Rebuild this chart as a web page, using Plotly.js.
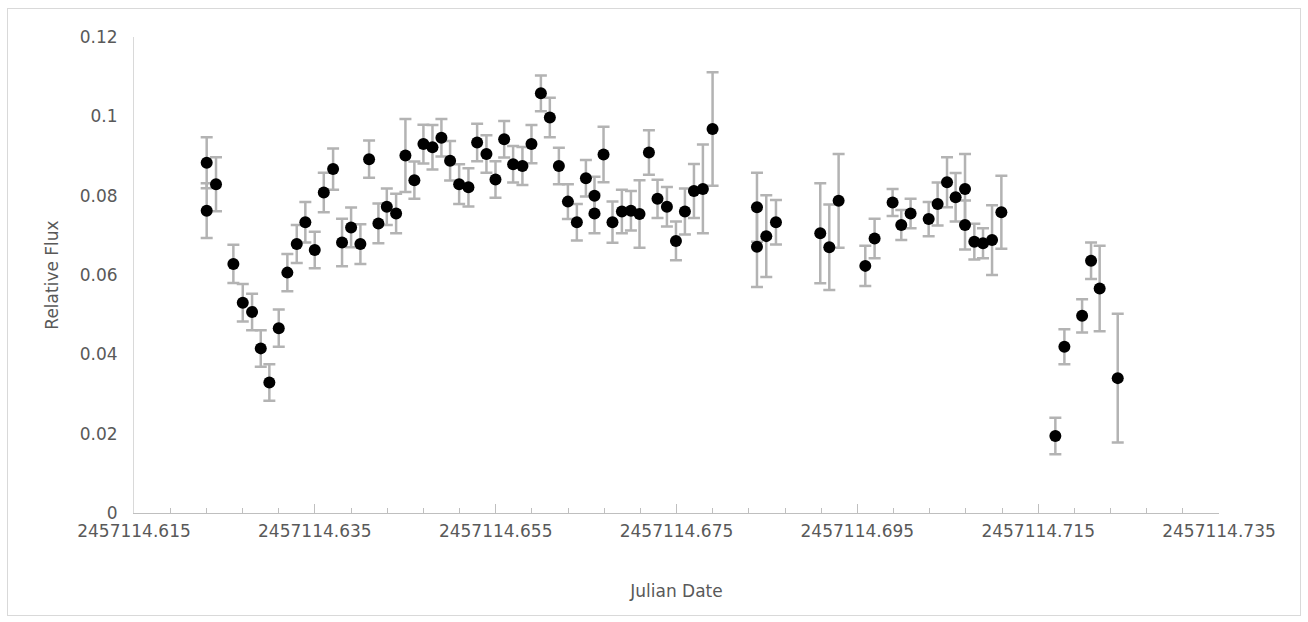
<!DOCTYPE html>
<html>
<head>
<meta charset="utf-8">
<script src="https://cdn.plot.ly/plotly-3.0.1.min.js"></script>
<style>
  html, body { margin: 0; padding: 0; background: #ffffff; }
  #frame { position: absolute; left: 7px; top: 8px; width: 1292px; height: 606px; border: 1px solid #d9d9d9; pointer-events: none; z-index: 5; }
  #chart { position: absolute; left: 0; top: 0; width: 1308px; height: 622px; }
</style>
</head>
<body>
<div id="chart"></div>
<div id="frame"></div>
<script>
// Julian Date of each measurement
const julianDate = [
  2457114.62304, 2457114.62304, 2457114.62407, 2457114.62599, 2457114.62703,
  2457114.62806, 2457114.62902, 2457114.62997, 2457114.63101, 2457114.63196,
  2457114.63300, 2457114.63395, 2457114.63499, 2457114.63599, 2457114.63702,
  2457114.63801, 2457114.63901, 2457114.64004, 2457114.64100, 2457114.64203,
  2457114.64296, 2457114.64399, 2457114.64502, 2457114.64601, 2457114.64701,
  2457114.64801, 2457114.64900, 2457114.64996, 2457114.65096, 2457114.65199,
  2457114.65295, 2457114.65398, 2457114.65498, 2457114.65594, 2457114.65693,
  2457114.65796, 2457114.65896, 2457114.66000, 2457114.66099, 2457114.66199,
  2457114.66299, 2457114.66398, 2457114.66498, 2457114.66593, 2457114.66593,
  2457114.66693, 2457114.66792, 2457114.66896, 2457114.66996, 2457114.67091,
  2457114.67195, 2457114.67290, 2457114.67394, 2457114.67494, 2457114.67593,
  2457114.67693, 2457114.67792, 2457114.67899, 2457114.68390, 2457114.68390,
  2457114.68493, 2457114.68600, 2457114.69090, 2457114.69190, 2457114.69293,
  2457114.69588, 2457114.69691, 2457114.69890, 2457114.69986, 2457114.70089,
  2457114.70289, 2457114.70388, 2457114.70492, 2457114.70587, 2457114.70691,
  2457114.70691, 2457114.70794, 2457114.70890, 2457114.70990, 2457114.71093,
  2457114.71690, 2457114.71790, 2457114.71986, 2457114.72085, 2457114.72180,
  2457114.72380
];

// Relative flux
const relativeFlux = [
  0.0883, 0.0762, 0.0829, 0.0628, 0.0530,
  0.0507, 0.0415, 0.0329, 0.0466, 0.0606,
  0.0678, 0.0733, 0.0663, 0.0808, 0.0867,
  0.0682, 0.0720, 0.0678, 0.0892, 0.0730,
  0.0772, 0.0755, 0.0901, 0.0839, 0.0930,
  0.0922, 0.0946, 0.0888, 0.0829, 0.0821,
  0.0934, 0.0905, 0.0841, 0.0942, 0.0879,
  0.0875, 0.0930, 0.1058, 0.0997, 0.0875,
  0.0785, 0.0733, 0.0844, 0.0800, 0.0755,
  0.0904, 0.0733, 0.0760, 0.0762, 0.0754,
  0.0909, 0.0792, 0.0772, 0.0686, 0.0760,
  0.0812, 0.0817, 0.0968, 0.0771, 0.0671,
  0.0698, 0.0733, 0.0705, 0.0670, 0.0787,
  0.0623, 0.0692, 0.0783, 0.0726, 0.0755,
  0.0741, 0.0779, 0.0834, 0.0796, 0.0817,
  0.0726, 0.0684, 0.0680, 0.0688, 0.0758,
  0.0194, 0.0419, 0.0497, 0.0636, 0.0566,
  0.0340
];

// Flux uncertainty (symmetric error bars)
const fluxError = [
  0.0064, 0.0069, 0.0068, 0.0048, 0.0047,
  0.0046, 0.0046, 0.0046, 0.0047, 0.0047,
  0.0048, 0.0051, 0.0046, 0.0050, 0.0052,
  0.0060, 0.0050, 0.0050, 0.0047, 0.0050,
  0.0046, 0.0050, 0.0092, 0.0047, 0.0049,
  0.0056, 0.0047, 0.0050, 0.0050, 0.0048,
  0.0047, 0.0047, 0.0046, 0.0046, 0.0046,
  0.0048, 0.0048, 0.0045, 0.0050, 0.0046,
  0.0044, 0.0046, 0.0046, 0.0048, 0.0050,
  0.0070, 0.0052, 0.0055, 0.0050, 0.0085,
  0.0056, 0.0048, 0.0050, 0.0049, 0.0058,
  0.0068, 0.0112, 0.0143, 0.0087, 0.0101,
  0.0103, 0.0056, 0.0126, 0.0108, 0.0118,
  0.0051, 0.0050, 0.0034, 0.0038, 0.0037,
  0.0043, 0.0054, 0.0063, 0.0061, 0.0088,
  0.0062, 0.0045, 0.0038, 0.0088, 0.0092,
  0.0046, 0.0044, 0.0042, 0.0046, 0.0108,
  0.0162
];

// Axis tick values and labels
const xTickValues = [2457114.615, 2457114.635, 2457114.655, 2457114.675, 2457114.695, 2457114.715, 2457114.735];
const xTickLabels = ["2457114.615", "2457114.635", "2457114.655", "2457114.675", "2457114.695", "2457114.715", "2457114.735"];
const yTickValues = [0, 0.02, 0.04, 0.06, 0.08, 0.1, 0.12];
const yTickLabels = ["0", "0.02", "0.04", "0.06", "0.08", "0.1", "0.12"];

const textColor = '#595959';
const fontFamily = 'DejaVu Sans, sans-serif';

const trace = {
  type: 'scatter',
  mode: 'markers',
  x: julianDate,
  y: relativeFlux,
  error_y: {
    type: 'data',
    array: fluxError,
    visible: true,
    color: '#b3b3b3',
    thickness: 2.5,
    width: 6
  },
  marker: { color: '#000000', size: 12 },
  showlegend: false,
  hoverinfo: 'x+y'
};

const layout = {
  width: 1308,
  height: 622,
  margin: { l: 134, r: 89, t: 37, b: 109 },
  paper_bgcolor: '#ffffff',
  plot_bgcolor: '#ffffff',
  font: { family: fontFamily, size: 17, color: textColor },
  xaxis: {
    range: [2457114.615, 2457114.735],
    tickmode: 'array',
    tickvals: xTickValues,
    ticktext: xTickLabels,
    ticks: 'inside',
    ticklen: 9,
    tickwidth: 1,
    tickcolor: '#bfbfbf',
    minor: { tickmode: 'linear', tick0: 2457114.615, dtick: 0.004, ticks: 'inside', ticklen: 5, tickwidth: 1, tickcolor: '#bfbfbf' },
    showline: true,
    linecolor: '#bfbfbf',
    linewidth: 1,
    showgrid: false,
    zeroline: false,
    ticklabelstandoff: 3,
    tickfont: { family: fontFamily, size: 17, color: textColor },
    title: { text: 'Julian Date', font: { family: fontFamily, size: 17, color: textColor }, standoff: 44 },
    automargin: false
  },
  yaxis: {
    range: [0, 0.12],
    tickmode: 'array',
    tickvals: yTickValues,
    ticktext: yTickLabels,
    ticks: '',
    showline: true,
    linecolor: '#d9d9d9',
    linewidth: 1,
    showgrid: false,
    zeroline: false,
    ticklabelstandoff: 12,
    tickfont: { family: fontFamily, size: 17, color: textColor },
    title: { text: 'Relative Flux', font: { family: fontFamily, size: 17, color: textColor }, standoff: 16 },
    automargin: false
  }
};

Plotly.newPlot('chart', [trace], layout, { displayModeBar: false, staticPlot: true });
</script>
</body>
</html>
